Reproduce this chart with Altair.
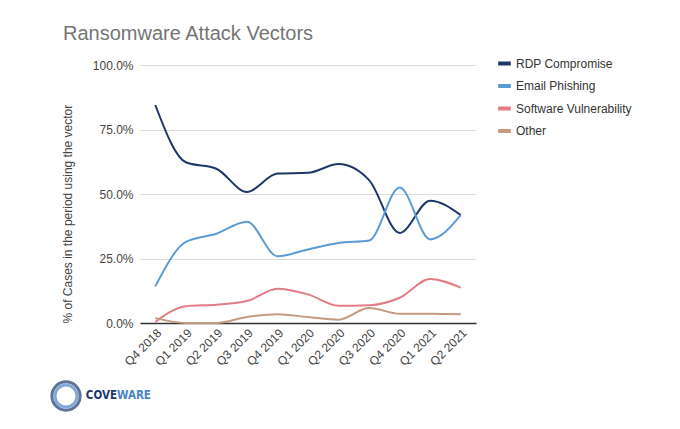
import altair as alt
import pandas as pd

quarters = ["Q4 2018", "Q1 2019", "Q2 2019", "Q3 2019", "Q4 2019", "Q1 2020",
            "Q2 2020", "Q3 2020", "Q4 2020", "Q1 2021", "Q2 2021"]
series = ["RDP Compromise", "Email Phishing", "Software Vulnerability", "Other"]
rdp = [84.5, 62.3, 59.8, 50.8, 57.9, 58.2, 61.6, 55.4, 34.9, 47.4, 41.8]
email = [14.2, 31.4, 34.6, 39.2, 25.9, 28.5, 31.0, 32.0, 52.5, 32.4, 41.8]
software = [0.4, 6.5, 7.1, 8.5, 13.3, 11.1, 6.7, 6.9, 9.8, 17.1, 13.7]
other = [1.9, 0.0, 0.0, 2.3, 3.4, 2.3, 1.3, 5.8, 3.6, 3.6, 3.4]
colors = ["#1d3768", "#5b9bd5", "#e47b86", "#c59a7e"]

rows = []
for name, vals in zip(series, [rdp, email, software, other]):
    for q, v in zip(quarters, vals):
        rows.append({"quarter": q, "series": name, "value": v / 100})
df = pd.DataFrame(rows)

lines = alt.Chart(df).mark_line(interpolate="monotone", strokeWidth=2).encode(
    x=alt.X("quarter:N", sort=quarters, title=None,
            scale=alt.Scale(type="point", padding=0.5),
            axis=alt.Axis(labelAngle=-45, labelAlign="right", labelBaseline="top",
                          labelFontSize=12, labelColor="#444444", labelPadding=4,
                          ticks=False, domainColor="#333333", domainWidth=1.5,
                          grid=False, labelFont="Liberation Sans")),
    y=alt.Y("value:Q", scale=alt.Scale(domain=[0, 1]),
            title="% of Cases in the period using the vector",
            axis=alt.Axis(format=".1%", values=[0, 0.25, 0.5, 0.75, 1],
                          labelFontSize=12, labelColor="#444444", labelPadding=7,
                          ticks=False, domain=False, gridColor="#dcdcdc",
                          titleFontSize=12, titleFontWeight="normal", titleColor="#444444",
                          titleAngle=270, titleX=-73, titleY=258, titleAlign="left",
                          titleBaseline="middle", labelFont="Liberation Sans",
                          titleFont="Liberation Sans")),
    color=alt.Color("series:N", sort=series,
                    scale=alt.Scale(domain=series, range=colors),
                    legend=alt.Legend(title=None, orient="none", legendX=356, legendY=-10,
                                      symbolType="stroke", symbolStrokeWidth=4,
                                      symbolSize=160, labelFontSize=12,
                                      labelColor="#333333", labelOffset=3,
                                      rowPadding=5.5, padding=0,
                                      labelFont="Liberation Sans")),
)

logo_ring = pd.DataFrame({"k": ["outer", "inner"]})
ring = alt.Chart(logo_ring).mark_point(filled=False, shape="circle").encode(
    x=alt.value(-74), y=alt.value(331),
    size=alt.Size("k:N", scale=alt.Scale(domain=["outer", "inner"], range=[800, 480]), legend=None),
    stroke=alt.Stroke("k:N", scale=alt.Scale(domain=["outer", "inner"], range=["#1d3768", "#4a86c5"]), legend=None),
    strokeWidth=alt.value(3),
)

logo_text = pd.DataFrame({"t": ["COVE", "WARE"], "c": ["#1d3768", "#4a86c5"]})
cove = alt.Chart(logo_text).transform_filter(alt.datum.t == "COVE").mark_text(
    align="right", baseline="middle", fontSize=11.5, fontWeight="bold",
    font="DejaVu Sans Condensed, Liberation Sans").encode(
    x=alt.value(-23), y=alt.value(331), text="t:N",
    color=alt.Color("c:N", scale=None),
)
ware = alt.Chart(logo_text).transform_filter(alt.datum.t == "WARE").mark_text(
    align="left", baseline="middle", fontSize=11.5, fontWeight="bold",
    font="DejaVu Sans Condensed, Liberation Sans").encode(
    x=alt.value(-23), y=alt.value(331), text="t:N",
    color=alt.Color("c:N", scale=None),
)

chart = alt.layer(lines, ring, cove, ware).properties(
    width=336, height=258,
    title=alt.TitleParams("Ransomware Attack Vectors", anchor="start", frame="group", dx=-77,
                          fontSize=20, fontWeight="normal", color="#757575",
                          font="Liberation Sans", offset=11),
    autosize=alt.AutoSizeParams(type="none"),
    padding={"left": 132, "top": 57, "right": 196, "bottom": 92},
).configure_view(stroke=None).resolve_scale(color="independent", size="independent")

chart.save("out.html", embed_options={"renderer": "svg", "actions": False})
